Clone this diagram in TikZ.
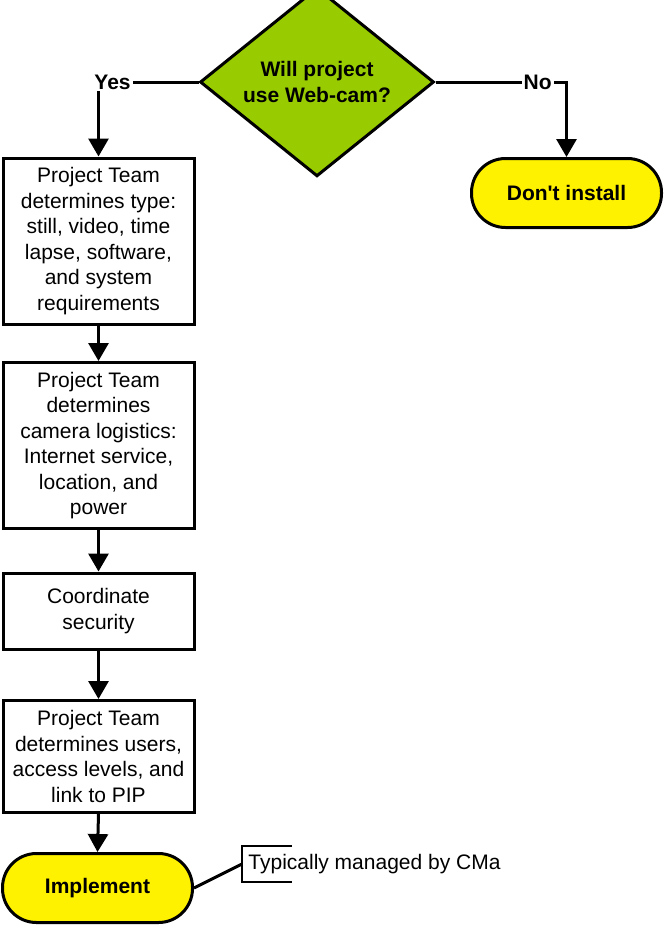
\documentclass[tikz,border=0pt]{standalone}
\usepackage{fontspec}
\setmainfont{Liberation Sans}
\usepackage{tikz}
\usetikzlibrary{shapes.geometric, arrows.meta, positioning}

\definecolor{webgreen}{RGB}{153,204,0}
\newcommand{\txtfont}{\fontsize{10.5}{12.75}\selectfont}

\tikzset{
    process/.style={rectangle, draw=black, fill=white, line width=1.5pt, minimum width=95.5pt, inner sep=0pt, align=center, font=\txtfont},
    decision/.style={diamond, draw=black, fill=webgreen, line width=1.5pt, minimum width=117pt, minimum height=81pt, inner sep=0pt, align=center, font=\txtfont\bfseries},
    terminal/.style={rectangle, rounded corners=17pt, draw=black, fill=yellow, line width=1.5pt, minimum width=95pt, minimum height=34.5pt, font=\txtfont\bfseries},
    connector/.style={line width=1.5pt, -{Triangle[length=9pt,width=10pt]}},
    answer/.style={fill=white, inner sep=1pt, font=\txtfont\bfseries}
}

\begin{document}
\begin{tikzpicture}[x=0.5pt, y=-0.5pt, font=\txtfont]
    \useasboundingbox (0,0) rectangle (665,926);

    % decision and its two outcomes
    \node [decision] (webcam) at (317,82) {Will project\\use Web-cam?};
    \node [terminal] (noinstall) at (566.5,193) {Don\textquotesingle t install};

    % steps of the Yes branch
    \node [process, minimum height=83pt] (camtype) at (98.5,241) {
        Project Team\\determines type:\\still, video, time\\lapse, software,\\and system\\requirements
    };
    \node [process, minimum height=83pt] (logistics) at (98.5,445.5) {
        Project Team\\determines\\camera logistics:\\Internet service,\\location, and\\power
    };
    \node [process, minimum height=38pt] (security) at (98.5,611) {Coordinate\\security};
    \node [process, minimum height=56pt] (users) at (98.5,756.5) {
        Project Team\\determines users,\\access levels, and\\link to PIP
    };
    \node [terminal] (implement) at (97.5,888) {Implement};

    % connectors
    \draw [connector] (webcam.west) -| node [answer, pos=0.43] {Yes} (camtype.north);
    \draw [connector] (webcam.east) -| node [answer, pos=0.39] {No} (noinstall.north);
    \draw [connector] (camtype.south) -- (logistics.north);
    \draw [connector] (logistics.south) -- (security.north);
    \draw [connector] (security.south) -- (users.north);
    \draw [connector] (users.south) -- (implement.north);

    % annotation
    \coordinate (notebrk) at (242,864);
    \draw [line width=1.5pt] (implement.east) -- (notebrk);
    \draw [line width=1.2pt] (notebrk) ++(50,-18) -- ++(-50,0) -- ++(0,36) -- ++(50,0);
    \node [anchor=west, inner sep=0pt] (note) at (248,864) {Typically managed by CMa};
\end{tikzpicture}
\end{document}
